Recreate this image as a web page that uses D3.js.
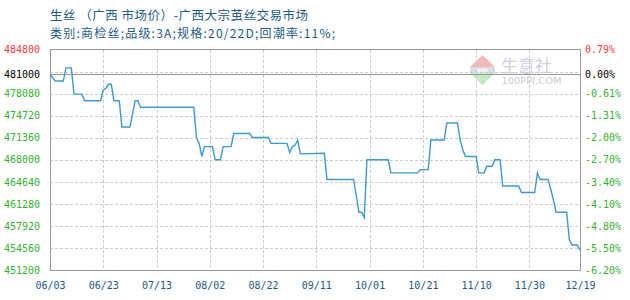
<!DOCTYPE html>
<html><head><meta charset="utf-8">
<script src="https://cdn.jsdelivr.net/npm/d3@7"></script>
<style>
body{margin:0;background:#fff;}
svg{display:block;}
</style></head>
<body>
<script>
const titleText = "生丝 （广西 市场价）-广西大宗茧丝交易市场";
const subtitleText = "类别:商检丝;品级:3A;规格:20/22D;回潮率:11%;";
const dates = ["06-03","06-05","06-08","06-09","06-11","06-12","06-15","06-16","06-22","06-23","06-24","06-25","06-26","06-27","06-29","06-30","07-03","07-04","07-05","07-06","07-07","07-27","07-28","07-29","07-30","07-31","08-03","08-04","08-06","08-07","08-10","08-11","08-17","08-18","08-24","08-25","08-31","09-01","09-02","09-03","09-04","09-05","09-14","09-15","09-25","09-26","09-27","09-28","09-29","09-30","10-08","10-09","10-19","10-20","10-23","10-24","10-29","10-30","11-03","11-04","11-05","11-06","11-10","11-11","11-13","11-14","11-16","11-17","11-19","11-20","11-26","11-27","12-02","12-03","12-04","12-07","12-08","12-09","12-10","12-14","12-15","12-16","12-18","12-19"];
const prices = [481000,480000,480000,482000,482000,478000,478000,477000,477000,478600,478900,479500,479500,477000,477000,473000,473000,475000,477000,477000,476000,476000,471400,470500,468500,470000,470000,468000,468000,470000,470000,472000,472000,471400,471400,470500,470500,469100,470000,470200,471000,468900,469000,465000,465000,462500,460000,460000,459200,468000,468000,466000,466000,466500,466500,471000,471000,473600,473600,471000,469500,468500,468500,466000,466000,467000,467000,468000,468000,464000,464000,463000,463000,466000,465000,465000,463500,461900,460000,460000,455800,455000,455000,454250];
const xTickDates = ["06-03","06-23","07-13","08-02","08-22","09-11","10-01","10-21","11-10","11-30","12-19"];
const xTickLabels = ["06/03","06/23","07/13","08/02","08/22","09/11","10/01","10/21","11/10","11/30","12/19"];
const gridValues = [484800,481440,478080,474720,471360,468000,464640,461280,457920,454560,451200];
const leftLabelValues = [484800,481000,478080,474720,471360,468000,464640,461280,457920,454560,451200];
const leftLabels = ["484800","481000","478080","474720","471360","468000","464640","461280","457920","454560","451200"];
const rightLabels = ["0.79%","0.00%","-0.61%","-1.31%","-2.00%","-2.70%","-3.40%","-4.10%","-4.80%","-5.50%","-6.20%"];
const baseValue = 481000;

const W = 630, H = 300;
const L = 50, R = 580, T = 49.5, B = 270;
const parse = s => d3.timeParse("%Y-%m-%d")("2019-" + s);

const svg = d3.select("body").append("svg").attr("width", W).attr("height", H);

const x = d3.scaleTime().domain([parse("06-03"), parse("12-19")]).range([L, R]);
const y = d3.scaleLinear().domain([451200, 484800]).range([B, T]);

// title
svg.append("text").attr("x", 50).attr("y", 19.5).text(titleText)
  .attr("font-family", "Noto Sans CJK SC").attr("font-size", 12.5).attr("fill", "#1d5a88")
  .attr("textLength", 258).attr("lengthAdjust", "spacing");
svg.append("text").attr("x", 50).attr("y", 37.5).text(subtitleText)
  .attr("font-family", "Noto Sans CJK SC").attr("font-size", 12).attr("fill", "#1d5a88")
  .attr("textLength", 285).attr("lengthAdjust", "spacing");

// watermark
const wm = svg.append("g");
wm.append("path").attr("d", "M470,67 L482.5,55 L495,67 Z").attr("fill", "#f4b8b8");
wm.append("rect").attr("x", 470).attr("y", 67).attr("width", 25).attr("height", 6).attr("fill", "#dcdce6");
wm.append("text").attr("x", 482.5).attr("y", 72.5).attr("text-anchor", "middle").text("PPI")
  .attr("font-family", "DejaVu Sans").attr("font-weight", "bold").attr("font-size", 6).attr("fill", "#ffffff");
wm.append("path").attr("d", "M470,73 L495,73 L482.5,85 Z").attr("fill", "#c4e8c4");
wm.append("text").attr("x", 501).attr("y", 72).text("生意社")
  .attr("font-family", "Noto Sans CJK SC").attr("font-size", 17).attr("fill", "#cdd0e4");
wm.append("text").attr("x", 501.5).attr("y", 84).text("100PPI.COM")
  .attr("font-family", "DejaVu Sans").attr("font-size", 8.5).attr("fill", "#cccccc")
  .attr("textLength", 60).attr("lengthAdjust", "spacingAndGlyphs");

// grid
const grid = svg.append("g").attr("stroke", "#cccccc").attr("stroke-dasharray", "3,2").attr("shape-rendering", "crispEdges");
grid.selectAll("line.h").data(gridValues.slice(1, -1)).join("line")
  .attr("x1", L).attr("x2", R).attr("y1", d => Math.round(y(d)) + 0.5).attr("y2", d => Math.round(y(d)) + 0.5);
grid.selectAll("line.v").data(xTickDates.slice(1, -1)).join("line")
  .attr("y1", T).attr("y2", B).attr("x1", d => Math.round(x(parse(d))) + 0.5).attr("x2", d => Math.round(x(parse(d))) + 0.5);

// base line
svg.append("line").attr("x1", L).attr("x2", R)
  .attr("y1", Math.round(y(baseValue)) + 0.5).attr("y2", Math.round(y(baseValue)) + 0.5)
  .attr("stroke", "#999").attr("shape-rendering", "crispEdges");

// frame
svg.append("rect").attr("x", L + 0.5).attr("y", T).attr("width", R - L).attr("height", B - T)
  .attr("fill", "none").attr("stroke", "#999").attr("shape-rendering", "crispEdges");

// line
const line = d3.line().x((d, i) => x(parse(dates[i]))).y(d => y(d));
svg.append("path").datum(prices).attr("d", line)
  .attr("fill", "none").attr("stroke", "#3a9ad8").attr("stroke-width", 1.4);

// y labels
const labColor = (i) => i === 0 ? "#ff3b3b" : (i === 1 ? "#000000" : "#2fb52f");
const axL = d3.axisLeft(y).tickValues(leftLabelValues).tickFormat((d, i) => leftLabels[i]).tickSize(0).tickPadding(10);
const gL = svg.append("g").attr("transform", `translate(${L},0)`).call(axL);
gL.select(".domain").remove();
gL.selectAll("text").attr("font-family", "DejaVu Sans Mono").attr("font-size", 10).attr("fill", (d, i) => labColor(i));

const axR = d3.axisRight(y).tickValues(leftLabelValues).tickFormat((d, i) => rightLabels[i]).tickSize(0).tickPadding(5);
const gR = svg.append("g").attr("transform", `translate(${R},0)`).call(axR);
gR.select(".domain").remove();
gR.selectAll("text").attr("font-family", "DejaVu Sans Mono").attr("font-size", 10).attr("fill", (d, i) => labColor(i));

// x labels
const axB = d3.axisBottom(x).tickValues(xTickDates.map(parse)).tickFormat((d, i) => xTickLabels[i]).tickSize(0).tickPadding(12);
const gB = svg.append("g").attr("transform", `translate(0,${B})`).call(axB);
gB.select(".domain").remove();
gB.selectAll("text").attr("font-family", "DejaVu Sans Mono").attr("font-size", 10).attr("fill", "#1d5a88");
</script>
</body></html>
